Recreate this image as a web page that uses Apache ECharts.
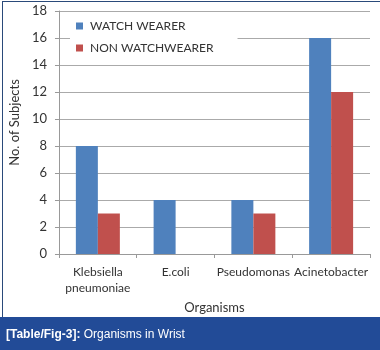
<!DOCTYPE html>
<html>
<head>
<meta charset="utf-8">
<script src="https://cdn.jsdelivr.net/npm/echarts@6/dist/echarts.min.js"></script>
<style>
  html, body { margin: 0; padding: 0; background: #fff; }
  #chart { width: 380px; height: 350px; }
</style>
</head>
<body>
<div id="chart"></div>
<script>
// Organisms isolated from the wrist, by group
const categories = ['Klebsiella\npneumoniae', 'E.coli', 'Pseudomonas', 'Acinetobacter'];
const watchWearer = [8, 4, 4, 16];
const nonWatchWearer = [3, 0, 3, 12];
const seriesNames = ['WATCH WEARER', 'NON WATCHWEARER'];
const yTicks = { min: 0, max: 18, interval: 2 };
const captionLead = '[Table/Fig-3]:';
const captionText = ' Organisms in Wrist';

const labelFont = 'Lato, "Open Sans", sans-serif';
const chart = echarts.init(document.getElementById('chart'), null, { renderer: 'canvas' });

chart.setOption({
  animation: false,
  backgroundColor: '#fff',
  grid: { left: 58, top: 11, right: 10, bottom: 96, containLabel: false },
  legend: {
    orient: 'vertical',
    left: 70,
    top: 16,
    padding: [4, 24, 6, 6],
    backgroundColor: '#fff',
    itemWidth: 7,
    itemHeight: 7,
    itemGap: 10,
    icon: 'rect',
    textStyle: { color: '#333', fontSize: 12, fontFamily: labelFont, padding: [0, 0, 0, 2] },
    data: seriesNames
  },
  xAxis: {
    type: 'category',
    data: categories,
    name: 'Organisms',
    nameLocation: 'middle',
    nameGap: 39,
    nameTextStyle: { color: '#333', fontSize: 13, fontFamily: labelFont },
    axisLine: { lineStyle: { color: '#999' } },
    axisTick: { show: true, length: 4, lineStyle: { color: '#999' } },
    axisLabel: { color: '#333', fontSize: 12, fontFamily: labelFont, margin: 10, lineHeight: 16, interval: 0 }
  },
  yAxis: {
    type: 'value',
    min: yTicks.min,
    max: yTicks.max,
    interval: yTicks.interval,
    name: 'No. of Subjects',
    nameLocation: 'middle',
    nameGap: 32,
    nameTextStyle: { color: '#333', fontSize: 13, fontFamily: labelFont, padding: [0, 0, 0, 20] },
    axisLine: { show: true, lineStyle: { color: '#999' } },
    axisTick: { show: true, length: 4, lineStyle: { color: '#999' } },
    axisLabel: { color: '#333', fontSize: 13, fontFamily: labelFont, margin: 12 },
    splitLine: { lineStyle: { color: '#aaa' } }
  },
  series: [
    {
      name: seriesNames[0],
      type: 'bar',
      data: watchWearer,
      barWidth: 22,
      barGap: '0%',
      itemStyle: { color: '#4F81BD' }
    },
    {
      name: seriesNames[1],
      type: 'bar',
      data: nonWatchWearer,
      barWidth: 22,
      barGap: '0%',
      itemStyle: { color: '#C0504D' }
    }
  ],
  graphic: [
    // frame lines
    { type: 'line', shape: { x1: 2, y1: 1.5, x2: 380, y2: 1.5 }, style: { stroke: '#2a4a7a', lineWidth: 1 }, silent: true },
    { type: 'line', shape: { x1: 2.5, y1: 1, x2: 2.5, y2: 318 }, style: { stroke: '#2a4a7a', lineWidth: 1 }, silent: true },
    // caption band
    { type: 'rect', shape: { x: 0, y: 317, width: 380, height: 33 }, style: { fill: '#224B97' }, silent: true },
    {
      type: 'text', left: 6, top: 329, silent: true,
      style: {
        text: '{b|' + captionLead + '}{r|' + captionText + '}',
        rich: {
          b: { fill: '#fff', fontWeight: 'bold', fontSize: 12, fontFamily: 'Liberation Sans, Arial, sans-serif' },
          r: { fill: '#fff', fontSize: 12, fontFamily: 'Liberation Sans, Arial, sans-serif' }
        }
      }
    }
  ]
});
</script>
</body>
</html>
